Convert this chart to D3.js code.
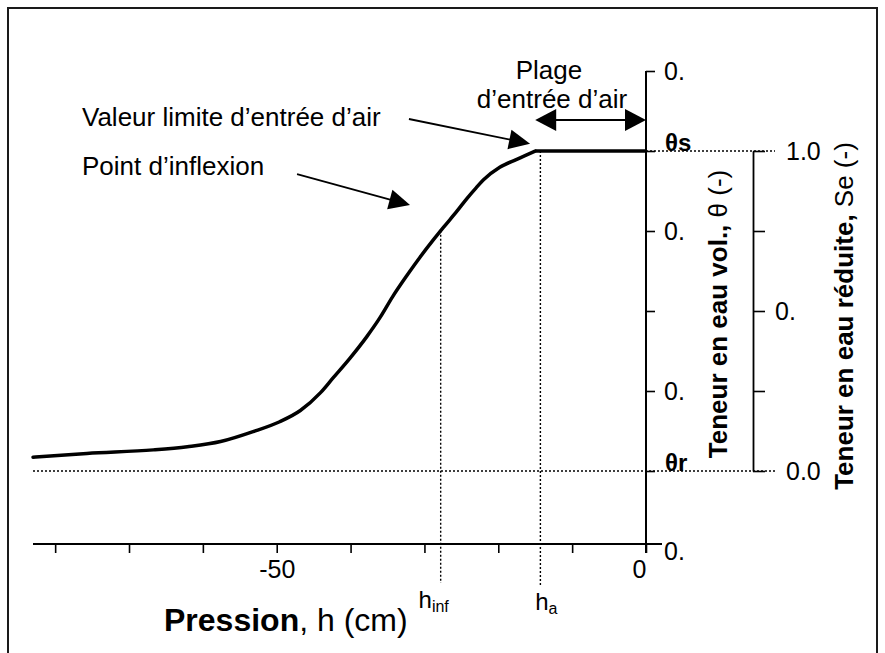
<!DOCTYPE html>
<html>
<head>
<meta charset="utf-8">
<script src="https://cdn.jsdelivr.net/npm/d3@7"></script>
<style>
  html, body { margin: 0; padding: 0; background: #fff; }
  svg { display: block; }
  text { font-family: "Liberation Sans", Arial, sans-serif; fill: #000; }
</style>
</head>
<body>
<svg id="chart" width="885" height="653"></svg>
<script>
// Retention curve: pressure head h (cm) vs. reduced water content Se (-)
const pressure   = [-83.0, -75.7, -66.7, -62.1, -57.6, -53.2, -49.6, -46.8, -44.1, -42.4, -40.1, -37.8, -36.0, -34.3, -32.4, -30.6, -28.8, -27.4, -25.6, -24.2, -23.0, -22.0, -19.8, -17.5, -15.0, 0];
const saturation = [0.043, 0.055, 0.066, 0.076, 0.092, 0.123, 0.154, 0.189, 0.244, 0.290, 0.352, 0.420, 0.480, 0.545, 0.610, 0.668, 0.722, 0.762, 0.812, 0.853, 0.885, 0.910, 0.949, 0.974, 1.0, 1.0];

// Characteristic values
const thetaR = 0.1;     // residual water content
const thetaS = 0.5;     // saturated water content
const hInf = -27.8;     // inflection point
const hA = -14.3;       // air-entry value

// Axis ticks and labels
const hTicks = [-80, -70, -60, -50, -40, -30, -20, -10, 0];
const hLabelValues = [-50, 0];
const hLabelTexts = ["-50", "0"];
const thetaTicks = [0.6, 0.5, 0.4, 0.3, 0.2, 0.1];
const thetaLabelValues = [0.6, 0.4, 0.2, 0.0];
const thetaLabelTexts = ["0.", "0.", "0.", "0."];
const seTicks = [0, 0.25, 0.5, 0.75, 1];
const seLabelValues = [1, 0.5, 0];
const seLabelTexts = ["1.0", "0.", "0.0"];

// Annotation arrows, in data coordinates (h, Se)
const arrowEntryFrom = [-32.1, 1.10], arrowEntryTo = [-15.7, 1.023];
const arrowInflFrom = [-47.25, 0.928], arrowInflTo = [-31.95, 0.831];
const rangeArrow = [-15.0, 0, 1.097];

const svg = d3.select("#chart");
const FONT = 26;

// Frame
svg.append("rect").attr("x", 8).attr("y", 8).attr("width", 869).attr("height", 660)
  .attr("fill", "none").attr("stroke", "#1a1a1a").attr("stroke-width", 2);

const x = d3.scaleLinear().domain([-83, 0]).range([33, 646]);
const yTheta = d3.scaleLinear().domain([0, 0.6]).range([551, 71]);
const ySe = d3.scaleLinear().domain([0, 1]).range([yTheta(thetaR), yTheta(thetaS)]);
const xAxisY = 544;
const rightAxisX = 753;

// Reference lines (dotted)
const dotted = svg.append("g").attr("stroke", "#000").attr("stroke-width", 1.4)
  .attr("stroke-dasharray", "2,2").attr("fill", "none");
dotted.append("line").attr("x1", x(-83)).attr("x2", 775)
  .attr("y1", ySe(0)).attr("y2", ySe(0));
dotted.append("line").attr("x1", x(0)).attr("x2", 775)
  .attr("y1", ySe(1)).attr("y2", ySe(1));
const interp = d3.scaleLinear().domain(pressure.slice(0, -1)).range(saturation.slice(0, -1));
dotted.append("line").attr("x1", x(hInf)).attr("x2", x(hInf))
  .attr("y1", ySe(interp(hInf))).attr("y2", 583);
dotted.append("line").attr("x1", x(hA)).attr("x2", x(hA))
  .attr("y1", ySe(1)).attr("y2", 586);

// X axis
const xAxis = d3.axisBottom(x).tickValues(hTicks).tickSize(9).tickSizeOuter(0)
  .tickFormat(d => { const i = hLabelValues.indexOf(d); return i >= 0 ? hLabelTexts[i] : ""; });
const gx = svg.append("g").attr("transform", `translate(0,${xAxisY})`).call(xAxis);
gx.select(".domain").remove();
gx.append("line").attr("x1", x(-83)).attr("x2", x(0) + 16).attr("y1", 0).attr("y2", 0)
  .attr("stroke", "#000").attr("stroke-width", 2);
gx.selectAll(".tick line").attr("stroke", "#000").attr("stroke-width", 1.6);
gx.selectAll(".tick text").attr("y", 34).attr("dy", 0)
  .attr("font-size", 25).attr("font-family", '"Liberation Sans", Arial, sans-serif')
  .attr("dx", d => d === 0 ? -7 : 0);

// Left axis: volumetric water content
const leftAxis = d3.axisRight(yTheta).tickValues(thetaTicks).tickSize(9).tickSizeOuter(0).tickFormat("");
const gl = svg.append("g").attr("transform", `translate(${x(0)},0)`).call(leftAxis);
gl.select(".domain").remove();
gl.append("line").attr("x1", 0).attr("x2", 0).attr("y1", yTheta(0.6)).attr("y2", 553)
  .attr("stroke", "#000").attr("stroke-width", 2);
gl.selectAll(".tick line").attr("stroke", "#000").attr("stroke-width", 1.6);
gl.selectAll(".tlabel").data(thetaLabelValues).enter().append("text")
  .attr("x", 18).attr("y", d => yTheta(d)).attr("dy", "0.36em")
  .attr("font-size", 25).text((d, i) => thetaLabelTexts[i]);
gl.append("text").attr("x", 19).attr("y", yTheta(thetaS)).attr("font-size", 24)
  .attr("font-weight", "bold").text("θs");
gl.append("text").attr("x", 19).attr("y", yTheta(thetaR)).attr("font-size", 24)
  .attr("font-weight", "bold").text("θr");

// Right axis: reduced water content
const rightAxis = d3.axisRight(ySe).tickValues(seTicks).tickSize(12).tickSizeOuter(0).tickFormat("");
const gr = svg.append("g").attr("transform", `translate(${rightAxisX},0)`).call(rightAxis);
gr.select(".domain").attr("stroke", "#000").attr("stroke-width", 1.8);
gr.selectAll(".tick line").attr("stroke", "#000").attr("stroke-width", 1.6);
gr.selectAll(".slabel").data(seLabelValues).enter().append("text")
  .attr("x", d => (d === 0 || d === 1) ? 33 : 22)
  .attr("y", d => ySe(d)).attr("dy", "0.36em")
  .attr("font-size", 25).text((d, i) => seLabelTexts[i]);

// Retention curve: smooth desaturation branch, then the straight saturated plateau
const pts = pressure.map((h, i) => [h, saturation[i]]);
const plateauStart = saturation.indexOf(1.0);
const smooth = d3.line().x(d => x(d[0])).y(d => ySe(d[1])).curve(d3.curveMonotoneX);
const straight = d3.line().x(d => x(d[0])).y(d => ySe(d[1]));
const curveG = svg.append("g").attr("fill", "none").attr("stroke", "#000")
  .attr("stroke-width", 3.5).attr("stroke-linejoin", "round").attr("stroke-linecap", "round");
curveG.append("path").attr("d", smooth(pts.slice(0, plateauStart + 1)));
curveG.append("path").attr("d", straight(pts.slice(plateauStart))).attr("stroke-linecap", "butt");

// Arrow helpers
function arrowHead(g, tipX, tipY, ang, len, half) {
  const bx = tipX - len * Math.cos(ang), by = tipY - len * Math.sin(ang);
  const px = -Math.sin(ang) * half, py = Math.cos(ang) * half;
  g.append("path").attr("d", `M${tipX},${tipY}L${bx + px},${by + py}L${bx - px},${by - py}Z`)
    .attr("fill", "#000");
}
function arrow(from, to) {
  const x1 = x(from[0]), y1 = ySe(from[1]), x2 = x(to[0]), y2 = ySe(to[1]);
  const ang = Math.atan2(y2 - y1, x2 - x1);
  const g = svg.append("g");
  g.append("line").attr("x1", x1).attr("y1", y1)
    .attr("x2", x2 - 15 * Math.cos(ang)).attr("y2", y2 - 15 * Math.sin(ang))
    .attr("stroke", "#000").attr("stroke-width", 1.8);
  arrowHead(g, x2, y2, ang, 21, 10);
}
arrow(arrowEntryFrom, arrowEntryTo);
arrow(arrowInflFrom, arrowInflTo);

// Air-entry range double arrow
{
  const g = svg.append("g");
  const xl = x(rangeArrow[0]), xr = x(rangeArrow[1]), yy = ySe(rangeArrow[2]);
  g.append("line").attr("x1", xl + 15).attr("x2", xr - 15).attr("y1", yy).attr("y2", yy)
    .attr("stroke", "#000").attr("stroke-width", 2);
  arrowHead(g, xl, yy, Math.PI, 21, 11);
  arrowHead(g, xr, yy, 0, 21, 11);
}

// Annotation texts
svg.append("text").attr("x", 82).attr("y", 126).attr("font-size", FONT)
  .text("Valeur limite d’entrée d’air");
svg.append("text").attr("x", 82).attr("y", 175).attr("font-size", FONT)
  .text("Point d’inflexion");
svg.append("text").attr("x", 549).attr("y", 79).attr("font-size", FONT)
  .attr("text-anchor", "middle").text("Plage");
svg.append("text").attr("x", 552).attr("y", 108).attr("font-size", FONT)
  .attr("text-anchor", "middle").text("d’entrée d’air");

// h_inf and h_a labels
function subLabel(cx, base, main, sub) {
  const t = svg.append("text").attr("x", cx).attr("y", base).attr("font-size", 24)
    .attr("text-anchor", "middle");
  t.append("tspan").text(main);
  t.append("tspan").attr("font-size", 16).attr("dy", 4).text(sub);
}
subLabel(x(hInf) - 7, 608, "h", "inf");
subLabel(x(hA) + 6, 610, "h", "a");

// Axis titles
const xt = svg.append("text").attr("x", 164).attr("y", 631).attr("font-size", 32);
xt.append("tspan").attr("font-weight", "bold").text("Pression");
xt.append("tspan").text(", h (cm)");

const lt = svg.append("text").attr("transform", "translate(727,314) rotate(-90)")
  .attr("text-anchor", "middle").attr("font-size", FONT);
lt.append("tspan").attr("font-weight", "bold").text("Teneur en eau vol.,");
lt.append("tspan").text(" θ (-)");

const rt = svg.append("text").attr("transform", "translate(853,316) rotate(-90)")
  .attr("text-anchor", "middle").attr("font-size", FONT);
rt.append("tspan").attr("font-weight", "bold").text("Teneur en eau réduite,");
rt.append("tspan").text(" Se (-)");
</script>
</body>
</html>
